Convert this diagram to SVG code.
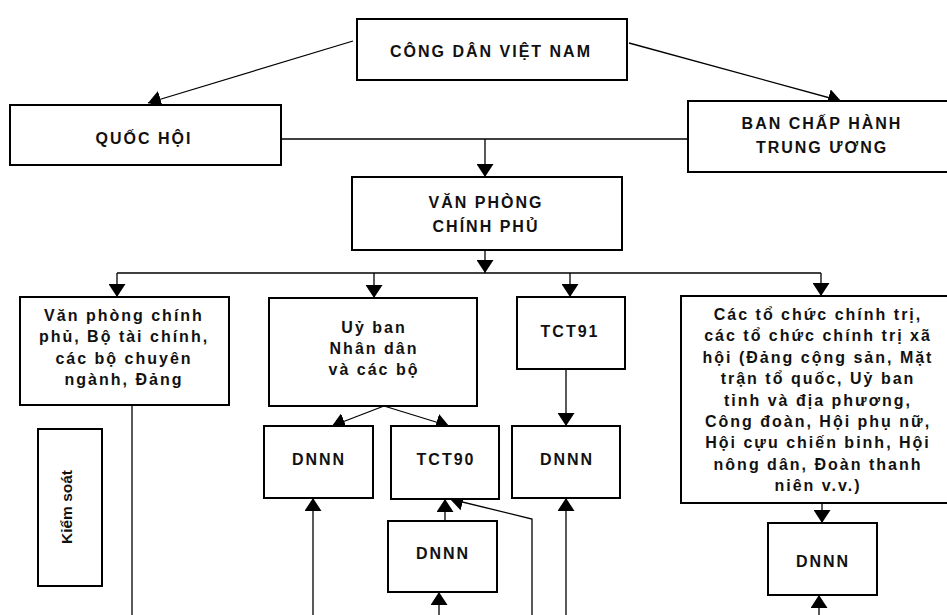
<svg xmlns="http://www.w3.org/2000/svg" width="947" height="615" viewBox="0 0 947 615">
<defs>
<marker id="ah" markerUnits="userSpaceOnUse" markerWidth="13" markerHeight="17" refX="13" refY="8.5" orient="auto" viewBox="0 0 13 17">
<path d="M0,0 L13,8.5 L0,17 z" fill="#000"/>
</marker>
<style>
.box{fill:#fff;stroke:#000;stroke-width:2}
.t{font-family:"Liberation Sans",Arial,sans-serif;font-weight:bold;font-size:16px;letter-spacing:2px;fill:#111;text-anchor:middle}
.ks{font-family:"Liberation Sans",Arial,sans-serif;font-weight:bold;font-size:15.5px;fill:#111;text-anchor:middle}
.c{fill:none;stroke:#000;stroke-width:1.3}
.a{marker-end:url(#ah)}
</style>
</defs>
<rect width="947" height="615" fill="#fff"/>
<g id="connectors">
<line class="c a" x1="353" y1="41" x2="148" y2="103"/>
<line class="c a" x1="629" y1="43" x2="841" y2="101"/>
<line class="c" x1="281" y1="139" x2="688" y2="139"/>
<line class="c a" x1="485" y1="139" x2="485" y2="177"/>
<line class="c a" x1="485" y1="250" x2="485" y2="273"/>
<line class="c" x1="117" y1="273" x2="821" y2="273"/>
<line class="c a" x1="117" y1="273" x2="117" y2="297"/>
<line class="c a" x1="374" y1="273" x2="374" y2="298"/>
<line class="c a" x1="570" y1="273" x2="570" y2="297"/>
<line class="c a" x1="821" y1="273" x2="821" y2="296"/>
<line class="c" x1="132" y1="405" x2="132" y2="615"/>
<line class="c a" x1="384" y1="406" x2="332" y2="426"/>
<line class="c a" x1="384" y1="406" x2="449" y2="426"/>
<line class="c a" x1="313" y1="615" x2="313" y2="498"/>
<line class="c a" x1="445" y1="521" x2="445" y2="499"/>
<line class="c a" x1="439" y1="615" x2="439" y2="592"/>
<polyline class="c a" points="532,615 532,519 450,499"/>
<line class="c a" x1="566" y1="369" x2="566" y2="426"/>
<line class="c a" x1="566" y1="615" x2="566" y2="498"/>
<line class="c a" x1="822" y1="503" x2="822" y2="523"/>
<line class="c a" x1="819" y1="615" x2="819" y2="595"/>
</g>
<g id="cong-dan">
<rect class="box" x="357" y="19" width="270" height="61"/>
<text class="t" x="491" y="57">CÔNG DÂN VIỆT NAM</text>
</g>
<g id="quoc-hoi">
<rect class="box" x="10" y="105" width="271" height="60"/>
<text class="t" x="144" y="144">QUỐC HỘI</text>
</g>
<g id="ban-chap-hanh">
<rect class="box" x="688" y="101" width="270" height="71"/>
<text class="t" x="822" y="129">BAN CHẤP HÀNH</text>
<text class="t" x="822" y="153">TRUNG ƯƠNG</text>
</g>
<g id="van-phong">
<rect class="box" x="352" y="177" width="270" height="73"/>
<text class="t" x="486" y="208">VĂN PHÒNG</text>
<text class="t" x="486" y="232">CHÍNH PHỦ</text>
</g>
<g id="van-phong-bo">
<rect class="box" x="20" y="297" width="209" height="108"/>
<text class="t" x="124" y="320.5">Văn phòng chính</text>
<text class="t" x="124" y="342">phủ, Bộ tài chính,</text>
<text class="t" x="124" y="363.5">các bộ chuyên</text>
<text class="t" x="124" y="385">ngành, Đảng</text>
</g>
<g id="kiem-soat">
<rect class="box" x="38" y="429" width="64" height="157"/>
<text class="ks" transform="translate(71.5,507) rotate(-90)">Kiểm soát</text>
</g>
<g id="uy-ban">
<rect class="box" x="269" y="298" width="208" height="108"/>
<text class="t" x="374" y="333">Uỷ ban</text>
<text class="t" x="374" y="354">Nhân dân</text>
<text class="t" x="374" y="374.5">và các bộ</text>
</g>
<g id="dnnn1">
<rect class="box" x="264" y="426" width="109" height="72"/>
<text class="t" x="319" y="465">DNNN</text>
</g>
<g id="tct90">
<rect class="box" x="391" y="426" width="108" height="73"/>
<text class="t" x="446" y="465">TCT90</text>
</g>
<g id="dnnn2">
<rect class="box" x="388" y="521" width="109" height="71"/>
<text class="t" x="443" y="559">DNNN</text>
</g>
<g id="tct91">
<rect class="box" x="517" y="297" width="108" height="72"/>
<text class="t" x="570" y="337">TCT91</text>
</g>
<g id="dnnn3">
<rect class="box" x="512" y="426" width="108" height="72"/>
<text class="t" x="567" y="465">DNNN</text>
</g>
<g id="to-chuc">
<rect class="box" x="681" y="296" width="275" height="207"/>
<text class="t" x="818" y="319.5">Các tổ chức chính trị,</text>
<text class="t" x="818" y="341">các tổ chức chính trị xã</text>
<text class="t" x="818" y="362.5">hội (Đảng cộng sản, Mặt</text>
<text class="t" x="818" y="384">trận tổ quốc, Uỷ ban</text>
<text class="t" x="818" y="405.5">tỉnh và địa phương,</text>
<text class="t" x="818" y="427">Công đoàn, Hội phụ nữ,</text>
<text class="t" x="818" y="448">Hội cựu chiến binh, Hội</text>
<text class="t" x="818" y="469.5">nông dân, Đoàn thanh</text>
<text class="t" x="818" y="491">niên v.v.)</text>
</g>
<g id="dnnn4">
<rect class="box" x="768" y="523" width="109" height="72"/>
<text class="t" x="823" y="567">DNNN</text>
</g>
</svg>
